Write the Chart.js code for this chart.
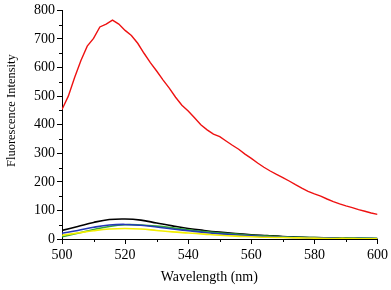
<!DOCTYPE html>
<html>
<head>
<meta charset="utf-8">
<script src="https://cdn.jsdelivr.net/npm/chart.js@4/dist/chart.umd.min.js"></script>
<style>
  html, body { margin: 0; padding: 0; background: #fff; }
  #wrap { width: 391px; height: 290px; }
</style>
</head>
<body>
<div id="wrap"><canvas id="c" width="391" height="290"></canvas></div>
<script>
// wavelengths (nm) for the noisy red spectrum, every 2 nm
const wlRed = [500,502,504,506,508,510,512,514,516,518,520,522,524,526,528,530,532,534,536,538,540,
  542,544,546,548,550,552,554,556,558,560,562,564,566,568,570,572,574,576,578,580,
  582,584,586,588,590,592,594,596,598,600];
const red = [453,500,565,625,675,702,742,752,766,752,730,712,685,650,617,588,557,528,496,468,448,
  424,400,382,367,358,343,328,314,297,282,266,251,238,226,215,203,190,178,167,158,
  150,140,131,123,116,110,103,97,91,86];

// the four weak spectra, every 5 nm
const wlLow = [500,505,510,515,520,525,530,535,540,545,550,555,560,565,570,575,580,585,590,595,600];
const black  = [30,44,58,68,70,66,56,46,37,30,24,19,15,12,9,7,5,4,3,2,2];
const blue   = [20,30,41,49,51,48,42,35,29,23,18,14,11,8,6,5,4,3,2,2,1];
const green  = [8,20,33,44,50,49,45,39,32,26,21,17,13,10,8,6,5,4,3,3,2];
const yellow = [13,21,29,35,37,35,30,25,21,17,13,10,8,6,5,4,3,2,2,1,1];

const xTicks = [500, 520, 540, 560, 580, 600];

const pts = (xs, ys) => xs.map((x, i) => ({ x: x, y: ys[i] }));

// minor ticks on both axes
const minorTicks = {
  id: 'minorTicks',
  afterDraw(chart) {
    const ctx = chart.ctx;
    const xs = chart.scales.x, ys = chart.scales.y;
    ctx.save();
    ctx.strokeStyle = '#000';
    ctx.lineWidth = 1;
    ctx.beginPath();
    for (let v = 510; v < 600; v += 20) {
      const px = Math.round(xs.getPixelForValue(v)) + 0.5;
      ctx.moveTo(px, ys.bottom);
      ctx.lineTo(px, ys.bottom + 3);
    }
    for (let v = 50; v < 800; v += 100) {
      const py = Math.round(ys.getPixelForValue(v)) + 0.5;
      ctx.moveTo(xs.left, py);
      ctx.lineTo(xs.left - 3, py);
    }
    ctx.stroke();
    ctx.restore();
  }
};

const serif = '"Liberation Serif", "Times New Roman", serif';
const font = { family: serif, size: 14 };

const line = (data, color, width) => ({
  data: data,
  borderColor: color,
  backgroundColor: color,
  borderWidth: width,
  pointRadius: 0,
  fill: false
});

new Chart(document.getElementById('c'), {
  type: 'line',
  data: {
    datasets: [
      Object.assign(line(pts(wlLow, yellow), '#f2ee00', 1.6), { tension: 0.4 }),
      Object.assign(line(pts(wlLow, blue), '#2438b8', 1.6), { tension: 0.4 }),
      Object.assign(line(pts(wlLow, green), '#33a833', 1.6), { tension: 0.4 }),
      Object.assign(line(pts(wlLow, black), '#000000', 1.6), { tension: 0.4 }),
      Object.assign(line(pts(wlRed, red), '#ee1111', 1.4), { tension: 0 })
    ]
  },
  options: {
    responsive: false,
    animation: false,
    events: [],
    layout: { padding: { top: 8, right: 13, left: 0, bottom: 0 } },
    plugins: { legend: { display: false }, tooltip: { enabled: false } },
    scales: {
      x: {
        type: 'linear',
        min: 500,
        max: 600,
        afterBuildTicks: (s) => { s.ticks = xTicks.map(v => ({ value: v })); },
        afterFit: (s) => { s.height = 51; },
        grid: { drawOnChartArea: false, color: '#000', tickLength: 5, tickColor: '#000' },
        border: { color: '#000', width: 1 },
        ticks: { color: '#000', font: font, padding: 3, maxRotation: 0 },
        // trailing spaces nudge the title a little left, as in the original
        title: { display: true, text: 'Wavelength (nm)      ', color: '#000', font: font, padding: { top: 5 } }
      },
      y: {
        min: 0,
        max: 800,
        afterFit: (s) => { s.width = 62; },
        grid: { drawOnChartArea: false, color: '#000', tickLength: 5, tickColor: '#000' },
        border: { color: '#000', width: 1 },
        ticks: { color: '#000', font: font, stepSize: 100, padding: 2 },
        // leading spaces lift the title above the plot centre
        title: { display: true, text: '         Fluorescence Intensity', color: '#000', font: { family: serif, size: 12.5 }, padding: { bottom: 2 } }
      }
    }
  },
  plugins: [minorTicks]
});
</script>
</body>
</html>
